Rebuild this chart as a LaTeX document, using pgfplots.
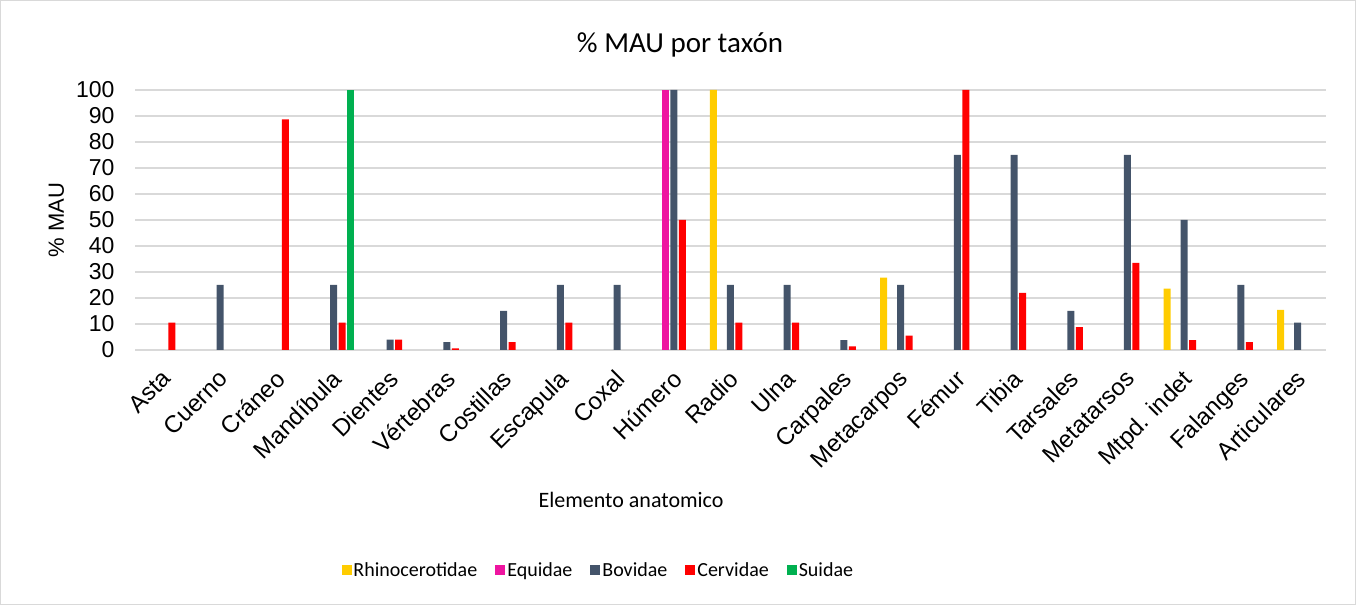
\documentclass[border=0pt]{standalone}
\usepackage{pgfplots}
\pgfplotsset{compat=1.18}
\usepackage{fontspec}
\setmainfont{Carlito}
\newfontfamily\arial{Liberation Sans}
\definecolor{rhino}{HTML}{FFCC00}
\definecolor{equi}{HTML}{EE15A0}
\definecolor{bovi}{HTML}{44546A}
\definecolor{cerv}{HTML}{FF0000}
\definecolor{suid}{HTML}{00B050}
\definecolor{gridc}{HTML}{D9D9D9}
\begin{document}
\begin{tikzpicture}
\useasboundingbox (0,0) rectangle (1356bp,605bp);
\draw[gridc, line width=1.2bp] (0.6bp,0.6bp) rectangle (1355.4bp,604.4bp);
\begin{axis}[
  at={(135bp,255bp)}, anchor=south west,
  scale only axis, width=1191bp, height=260bp,
  xmin=-0.5, xmax=20.5, ymin=0, ymax=100,
  ytick={0,10,...,100},
  xtick={0,...,20},
  xticklabels={Asta,Cuerno,Cráneo,Mandíbula,Dientes,Vértebras,Costillas,Escapula,Coxal,Húmero,Radio,Ulna,Carpales,Metacarpos,Fémur,Tibia,Tarsales,Metatarsos,Mtpd. indet,Falanges,Articulares},
  /pgf/number format/assume math mode=true,
  yticklabel style={font=\arial\fontsize{23bp}{27bp}\selectfont, xshift=-17bp},
  xticklabel style={font=\arial\fontsize{24bp}{28bp}\selectfont, rotate=45, anchor=north east, inner sep=1bp, yshift=-10bp, xshift=-14bp},
  major tick length=0pt,
  ymajorgrids, grid style={gridc, line width=1.3bp},
  axis line style={draw=none},
  ybar, bar width=7bp,
  ylabel={\% MAU},
  ylabel style={font=\arial\fontsize{22bp}{26bp}\selectfont, at={(axis description cs:-0.066,0.5)}, anchor=center, rotate=0},
  xlabel={Elemento anatomico},
  xlabel style={font=\fontsize{22bp}{26bp}\selectfont, at={(axis description cs:0.4165,-0.577)}, anchor=center},
  legend columns=5,
  legend style={draw=none, fill=none, font=\fontsize{20bp}{24bp}\selectfont, at={(axis description cs:0.389,-0.846)}, anchor=center, /tikz/every even column/.append style={column sep=16bp}},
  legend image code/.code={\fill[#1, draw=none] (0bp,-5bp) rectangle (10bp,5bp);},
]
\draw[gridc, line width=1.3bp] (axis cs:-0.5,0) -- (axis cs:20.5,0);
\addplot[fill=rhino, draw=none, bar shift=-17bp] coordinates {(10,100) (13,27.8) (18,23.6) (20,15.4)};
\addplot[fill=equi, draw=none, bar shift=-8.5bp] coordinates {(9,100)};
\addplot[fill=bovi, draw=none, bar shift=0bp] coordinates {(1,25) (3,25) (4,4) (5,3) (6,15) (7,25) (8,25) (9,100) (10,25) (11,25) (12,3.8) (13,25) (14,75) (15,75) (16,15) (17,75) (18,50) (19,25) (20,10.5)};
\addplot[fill=cerv, draw=none, bar shift=8.5bp] coordinates {(0,10.5) (2,88.7) (3,10.5) (4,4) (5,0.6) (6,3) (7,10.5) (9,50) (10,10.5) (11,10.5) (12,1.4) (13,5.5) (14,100) (15,22) (16,8.8) (17,33.5) (18,3.8) (19,3)};
\addplot[fill=suid, draw=none, bar shift=17bp] coordinates {(3,100)};
\legend{Rhinocerotidae,Equidae,Bovidae,Cervidae,Suidae}
\end{axis}
\node[font=\fontsize{29bp}{33bp}\selectfont, anchor=center] at (680bp,560bp) {\% MAU por taxón};
\end{tikzpicture}
\end{document}
